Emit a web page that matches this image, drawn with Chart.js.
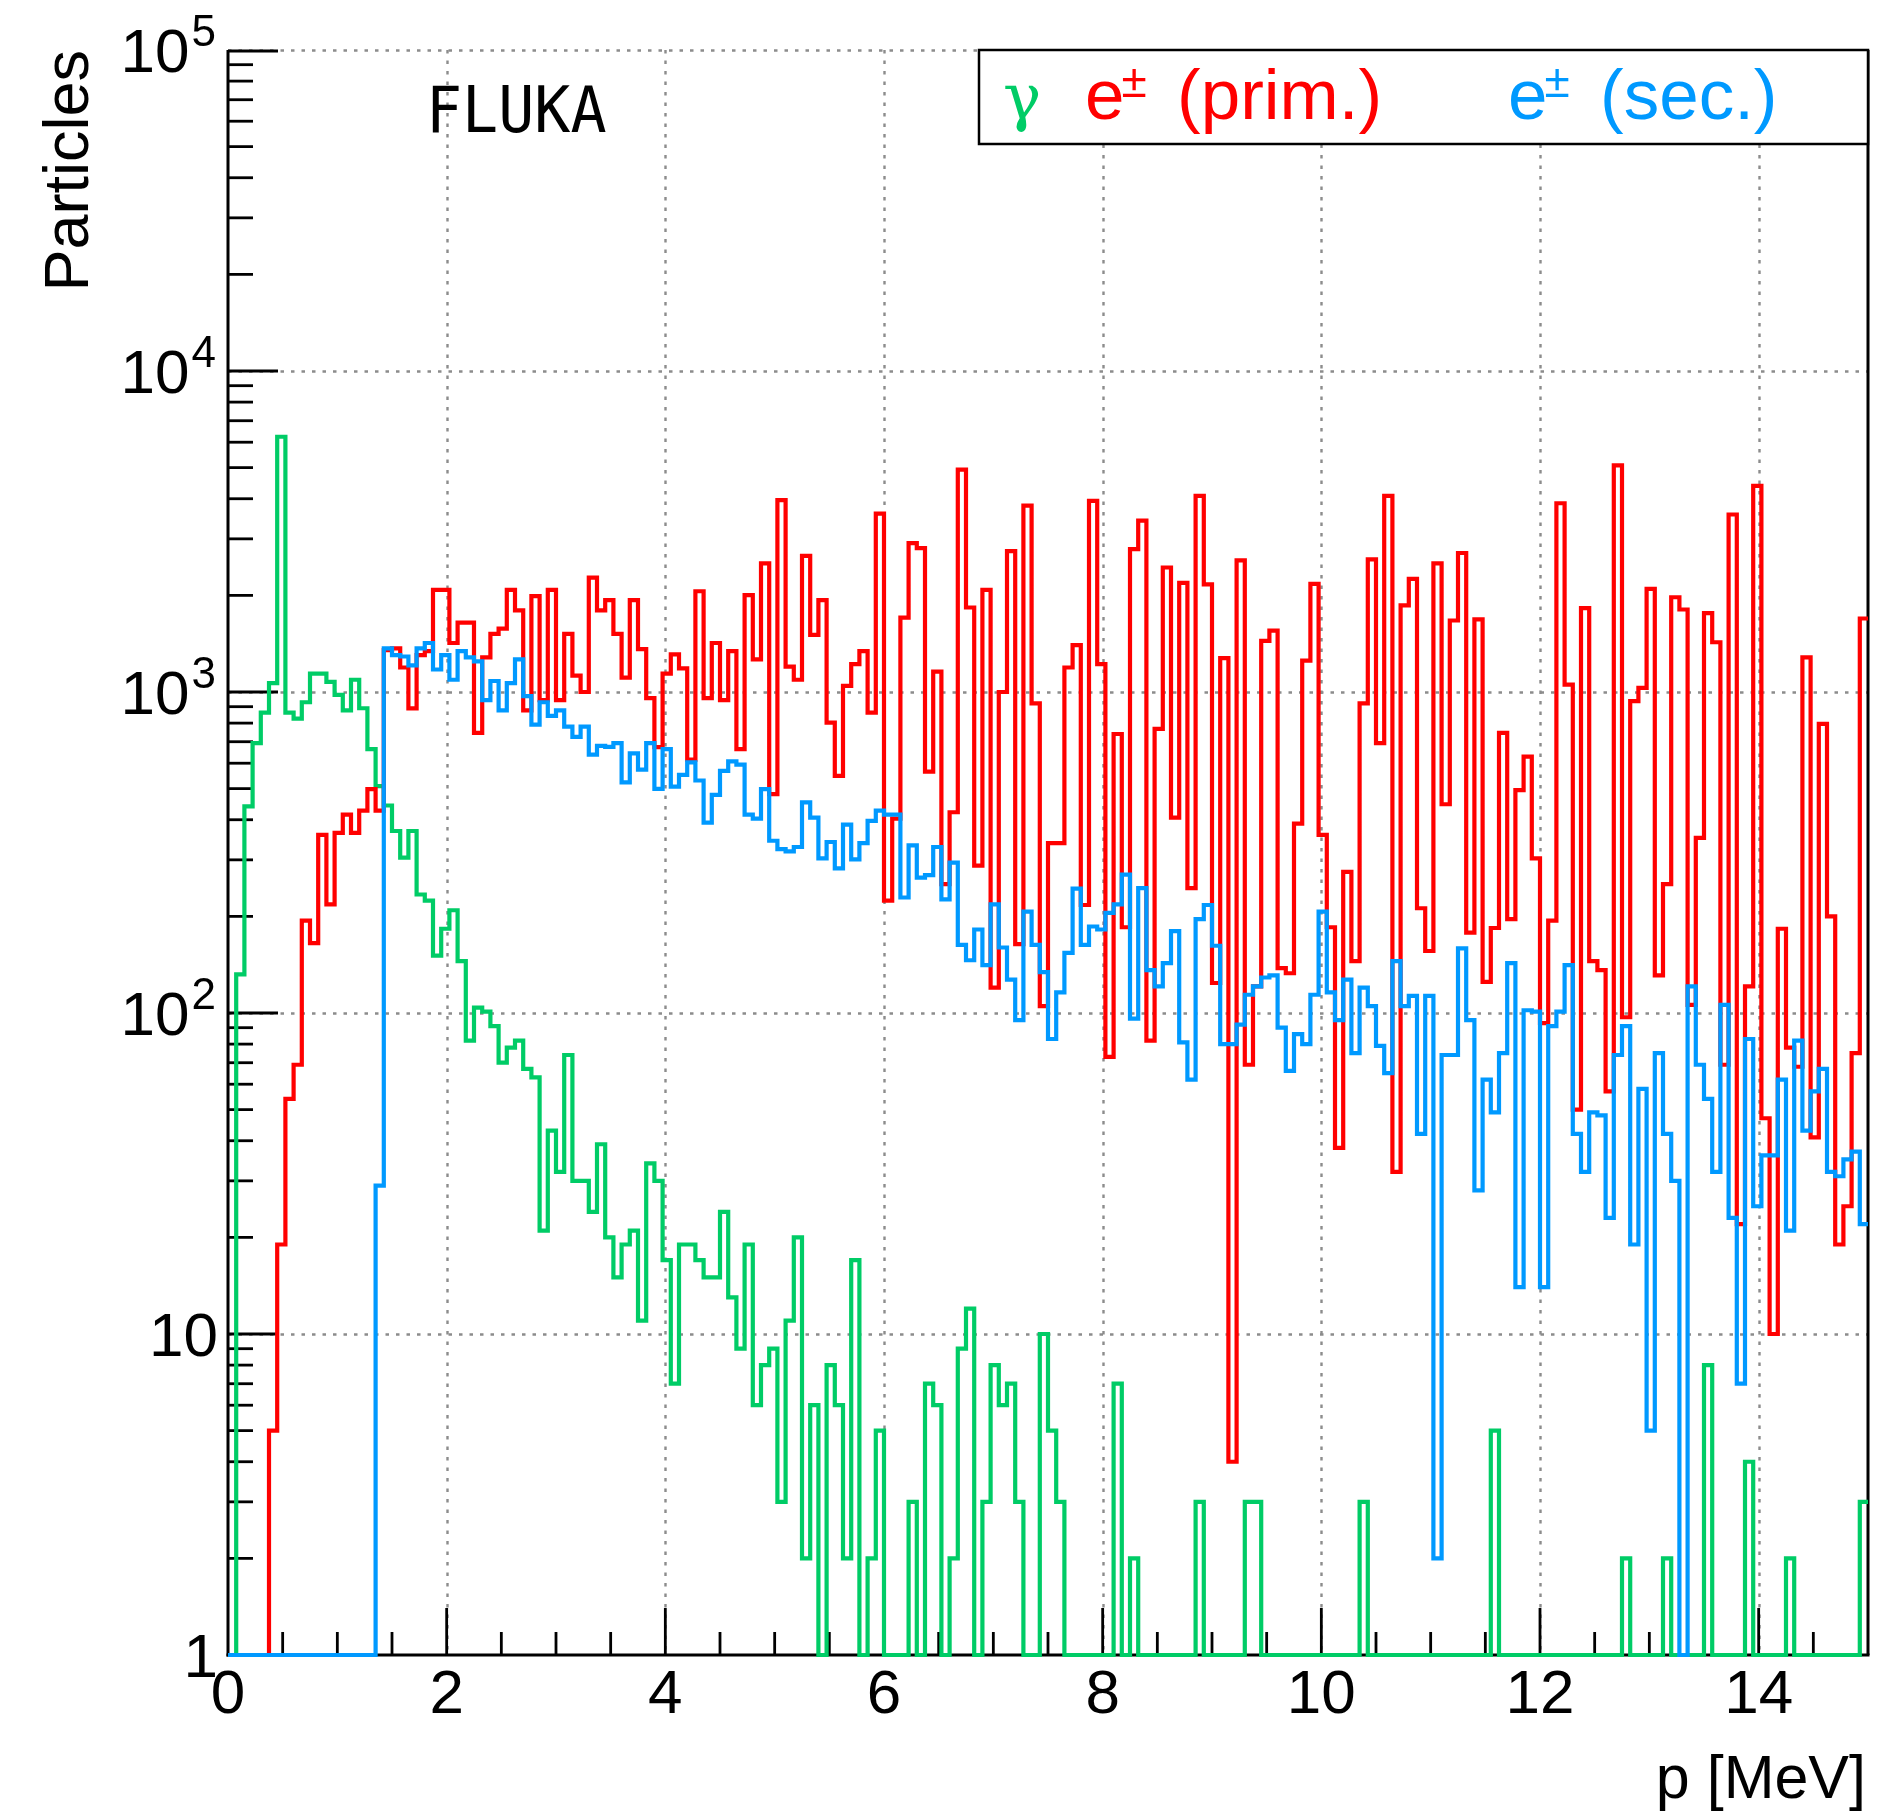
<!DOCTYPE html>
<html>
<head>
<meta charset="utf-8">
<script src="https://cdn.jsdelivr.net/npm/chart.js@4.4.0/dist/chart.umd.min.js"></script>
<style>
html,body{margin:0;padding:0;background:#ffffff;}
#wrap{width:1884px;height:1811px;position:relative;}
</style>
</head>
<body>
<div id="wrap"><canvas id="c"></canvas></div>
<script>
// ---------------- data ----------------
const BIN_WIDTH = 0.075;          // MeV per bin, 200 bins from 0 to 15 MeV
const X_RANGE = [0, 15];
const Y_RANGE = [1, 100000];
const X_MAJOR_TICKS = [0, 2, 4, 6, 8, 10, 12, 14];
const X_TICK_LABELS = ['0', '2', '4', '6', '8', '10', '12', '14'];
const Y_MAJOR_TICKS = [1, 10, 100, 1000, 10000, 100000];
const Y_TICK_BASES = ['1', '10', '10', '10', '10', '10'];
const Y_TICK_EXPONENTS = ['', '', '2', '3', '4', '5'];
const X_TITLE = 'p [MeV]';
const Y_TITLE = 'Particles';
const ANNOTATION = 'FLUKA';
const SERIES_NAMES = ['\u03b3', 'e\u00b1 (prim.)', 'e\u00b1 (sec.)'];

// photons (gamma)
const gammaCounts = [
  1,132,440,693,863,1066,6240,863,826,929,1141,1141,1076,980,877,1092,890,664,509,443,
  369,305,369,234,224,151,183,209,145,82,104,101,91,70,78,82,67,63,21,43,
  32,74,30,30,24,39,20,15,19,21,11,34,30,17,7,19,19,17,15,15,
  24,13,9,19,6,8,9,3,11,20,2,6,1,8,6,2,17,1,2,5,
  1,1,1,3,1,7,6,1,2,9,12,1,3,8,6,7,3,1,1,10,
  5,3,1,1,1,1,1,1,7,1,2,1,1,1,1,1,1,1,3,1,
  1,1,1,1,3,3,1,1,1,1,1,1,1,1,1,1,1,1,3,1,
  1,1,1,1,1,1,1,1,1,1,1,1,1,1,5,1,1,1,1,1,
  1,1,1,1,1,1,1,1,1,1,2,1,1,1,1,2,1,1,1,1,
  8,1,1,1,1,4,1,1,1,1,2,1,1,1,1,1,1,1,1,3
];
// primary e+-
const ePrimCounts = [
  1,1,1,1,1,5,19,54,69,194,165,359,218,364,415,364,427,498,427,1350,
  1368,1192,889,1302,1340,2080,2080,1421,1645,1645,746,1282,1517,1575,2080,1795,877,1990,943,2080,
  943,1517,1125,1000,2270,1795,1932,1517,1108,1932,1360,957,673,1141,1309,1185,616,2060,957,1421,
  943,1340,664,2003,1264,2517,481,3963,1199,1092,2655,1507,1932,803,548,1045,1221,1340,863,3594,
  224,403,1706,2911,2806,565,1158,252,422,4932,1833,288,2080,120,1000,2747,164,3808,921,105,
  338,338,1192,1400,217,3937,1221,73,740,185,2786,3420,82,768,2443,406,2188,245,4082,2163,
  124,1275,4,2570,69,121,1443,1552,138,133,389,1253,2173,359,185,38,275,145,921,2588,
  693,4082,32,1862,2250,212,156,2517,447,1670,2710,178,1683,125,184,746,196,495,629,303,
  93,194,3873,1054,50,1824,145,136,57,5080,97,937,1030,2094,131,252,1973,1807,106,351,
  1762,1429,69,3573,22,121,4385,47,10,183,78,68,1282,41,796,200,19,25,75,1694
];
// secondary e+-
const eSecCounts = [
  1,1,1,1,1,1,1,1,1,1,1,1,1,1,1,1,1,1,29,1368,
  1302,1290,1210,1368,1421,1175,1302,1092,1340,1282,1245,943,1082,877,1066,1264,971,791,929,843,
  877,780,725,780,638,679,675,693,523,644,573,693,499,664,507,552,604,530,392,478,
  568,608,594,415,403,498,344,324,319,329,453,406,303,341,282,386,301,338,397,427,
  415,415,229,333,264,269,329,226,294,163,146,182,141,218,160,127,95,207,163,134,
  83,116,154,244,163,186,182,205,218,270,96,245,136,121,143,180,81,62,196,217,
  162,80,80,92,114,121,129,131,90,66,86,80,114,207,116,95,127,75,120,105,
  79,65,145,105,113,42,113,2,74,74,159,95,28,62,49,75,143,14,102,101,
  14,91,101,141,42,32,49,48,23,74,91,19,58,5,75,42,30,1,121,69,
  54,32,106,23,7,83,25,36,36,62,21,82,43,57,67,32,31,35,37,22
];

// ---------------- styles ----------------
const COLORS = { gamma: '#00cc66', prim: '#ff0000', sec: '#0099ff' };
const SANS = '"Liberation Sans", Arial, Helvetica, sans-serif';

// histogram outline: one point per bin left edge plus the closing right edge
function histPoints(counts) {
  const pts = counts.map((v, i) => ({ x: i * BIN_WIDTH, y: v }));
  pts.push({ x: counts.length * BIN_WIDTH, y: counts[counts.length - 1] });
  return pts;
}

function line(ctx, x1, y1, x2, y2) {
  ctx.beginPath(); ctx.moveTo(x1, y1); ctx.lineTo(x2, y2); ctx.stroke();
}

const rootStylePlugin = {
  id: 'rootStyle',
  beforeDatasetsDraw(chart) {
    const { ctx, chartArea: a, scales: { x, y } } = chart;
    ctx.save();
    // dotted grid
    ctx.strokeStyle = '#8c8c8c';
    ctx.lineWidth = 2.4;
    ctx.setLineDash([3.5, 7]);
    X_MAJOR_TICKS.forEach(v => {
      if (v === X_RANGE[0]) return;
      const px = Math.round(x.getPixelForValue(v)) + 0.5;
      line(ctx, px, a.top, px, a.bottom);
    });
    Y_MAJOR_TICKS.forEach(v => {
      if (v === Y_RANGE[0]) return;
      const py = Math.round(y.getPixelForValue(v)) + 0.5;
      line(ctx, a.left, py, a.right, py);
    });
    ctx.setLineDash([]);
    // frame: left, bottom, right
    ctx.strokeStyle = '#000';
    ctx.lineWidth = 3;
    line(ctx, a.left, a.top, a.left, a.bottom + 1.5);
    line(ctx, a.left - 1.5, a.bottom, a.right + 1.5, a.bottom);
    line(ctx, a.right, a.top, a.right, a.bottom);
    // y ticks (inside)
    ctx.lineWidth = 2.8;
    for (let d = 0; d < 5; d++) {
      const base = Math.pow(10, d);
      line(ctx, a.left, y.getPixelForValue(base), a.left + 50, y.getPixelForValue(base));
      for (let m = 2; m <= 9; m++) {
        const py = y.getPixelForValue(m * base);
        line(ctx, a.left, py, a.left + 25, py);
      }
    }
    line(ctx, a.left, y.getPixelForValue(Y_RANGE[1]) + 1, a.left + 50, y.getPixelForValue(Y_RANGE[1]) + 1);
    // x ticks (inside)
    for (let v = 0.5; v < X_RANGE[1]; v += 0.5) {
      const px = x.getPixelForValue(v);
      const major = X_MAJOR_TICKS.includes(v);
      line(ctx, px, a.bottom, px, a.bottom - (major ? 47 : 23));
    }
    ctx.restore();
  },
  afterDraw(chart) {
    const { ctx, chartArea: a, scales: { x, y } } = chart;
    ctx.save();
    ctx.fillStyle = '#000';
    // x tick labels
    ctx.font = '62px ' + SANS;
    ctx.textAlign = 'center';
    ctx.textBaseline = 'alphabetic';
    X_MAJOR_TICKS.forEach((v, i) => {
      ctx.fillText(X_TICK_LABELS[i], x.getPixelForValue(v), a.bottom + 58);
    });
    // y tick labels with exponents
    const rightEdge = a.left - 14;
    Y_MAJOR_TICKS.forEach((v, i) => {
      const py = y.getPixelForValue(v);
      ctx.textAlign = 'right';
      let xr = rightEdge;
      if (Y_TICK_EXPONENTS[i]) {
        ctx.font = '44px ' + SANS;
        const w = ctx.measureText(Y_TICK_EXPONENTS[i]).width;
        ctx.fillText(Y_TICK_EXPONENTS[i], xr + 2, py - 4);
        xr -= w;
      }
      ctx.font = '62px ' + SANS;
      ctx.fillText(Y_TICK_BASES[i], xr + (Y_TICK_EXPONENTS[i] ? 0 : 4), py + 22);
    });
    // axis titles
    ctx.font = '61px ' + SANS;
    ctx.textAlign = 'right';
    ctx.fillText(X_TITLE, a.right - 2, a.bottom + 143);
    ctx.save();
    ctx.translate(88, a.top);
    ctx.rotate(-Math.PI / 2);
    ctx.textAlign = 'right';
    ctx.font = '63px ' + SANS;
    ctx.fillText(Y_TITLE, 0, 0);
    ctx.restore();
    // FLUKA annotation
    ctx.save();
    ctx.font = '60px "DejaVu Sans Mono", monospace';
    ctx.textAlign = 'left';
    ctx.translate(426, 132);
    ctx.scale(1, 1.08);
    ctx.fillText(ANNOTATION, 0, 0);
    ctx.restore();
    // legend box
    const lx = 979, ly = a.top, lw = a.right - 979, lh = 94;
    ctx.fillStyle = '#fff';
    ctx.fillRect(lx, ly, lw, lh);
    ctx.strokeStyle = '#000';
    ctx.lineWidth = 2.5;
    ctx.strokeRect(lx, ly, lw, lh);
    const base = 119;
    // gamma
    ctx.textAlign = 'left';
    ctx.fillStyle = COLORS.gamma;
    ctx.font = '64px "DejaVu Serif", serif';
    ctx.fillText(SERIES_NAMES[0], 1003, base);
    // e+- entries
    const drawE = (xs, color, rest) => {
      ctx.fillStyle = color;
      ctx.font = '71px ' + SANS;
      ctx.fillText('e', xs, base);
      const ew = ctx.measureText('e').width;
      ctx.font = '46px ' + SANS;
      ctx.fillText('\u00b1', xs + ew - 3, base - 22);
      ctx.font = '71px ' + SANS;
      ctx.fillText(rest, xs + 92, base);
    };
    drawE(1085, COLORS.prim, SERIES_NAMES[1].split(' ')[1]);
    drawE(1508, COLORS.sec, SERIES_NAMES[2].split(' ')[1]);
    ctx.restore();
  }
};

const ctx = document.getElementById('c').getContext('2d');
new Chart(ctx, {
  type: 'line',
  data: {
    datasets: [
      { label: SERIES_NAMES[2], data: histPoints(eSecCounts), borderColor: COLORS.sec, order: 0 },
      { label: SERIES_NAMES[1], data: histPoints(ePrimCounts), borderColor: COLORS.prim, order: 1 },
      { label: SERIES_NAMES[0], data: histPoints(gammaCounts), borderColor: COLORS.gamma, order: 2 }
    ]
  },
  options: {
    responsive: true,
    maintainAspectRatio: false,
    animation: false,
    devicePixelRatio: 1,
    layout: { padding: { left: 228, top: 50, right: 16, bottom: 156 } },
    datasets: {
      line: {
        stepped: 'before', borderWidth: 4.2, pointRadius: 0, tension: 0, fill: false,
        borderJoinStyle: 'miter', borderCapStyle: 'butt', clip: 8
      }
    },
    scales: {
      x: {
        type: 'linear', min: X_RANGE[0], max: X_RANGE[1],
        ticks: { display: false }, grid: { display: false }, border: { display: false },
        afterFit: s => { s.height = 0; }
      },
      y: {
        type: 'logarithmic', min: Y_RANGE[0], max: Y_RANGE[1],
        ticks: { display: false }, grid: { display: false }, border: { display: false },
        afterFit: s => { s.width = 0; }
      }
    },
    plugins: { legend: { display: false }, tooltip: { enabled: false }, title: { display: false } }
  },
  plugins: [rootStylePlugin]
});
</script>
</body>
</html>
